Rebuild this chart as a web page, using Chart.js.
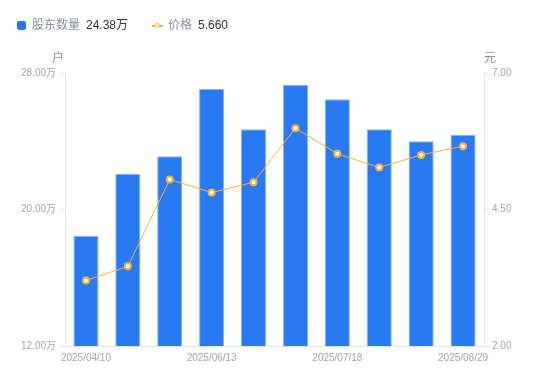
<!DOCTYPE html>
<html>
<head>
<meta charset="utf-8">
<script src="https://cdn.jsdelivr.net/npm/chart.js@4"></script>
<style>
  html, body { margin: 0; padding: 0; background: #fff; }
  #wrap { position: relative; width: 550px; height: 381px; font-family: "Liberation Sans", Arial, "Noto Sans CJK SC", sans-serif; }
  #legend { position: absolute; left: 0; top: 0; width: 550px; height: 40px; font-size: 12px; }
  .item { position: absolute; top: 17px; height: 17px; line-height: 17px; white-space: nowrap; }
  .lab { color: #8a8f9c; }
  .val { color: #333; margin-left: 6px; }
  .sq { display: inline-block; width: 9px; height: 9px; border-radius: 2px; background: #2979F2; vertical-align: -1px; margin-right: 6px; }
  .ln { display: inline-block; position: relative; width: 9px; height: 9px; vertical-align: -1px; margin-right: 6px; }
  .ln::before { content: ""; position: absolute; left: -1px; right: -1px; top: 3.5px; height: 2px; background: #F7B23B; }
  .ln::after { content: ""; position: absolute; left: 1.5px; top: 1.5px; width: 3px; height: 3px; border: 1.5px solid #F7B23B; border-radius: 50%; background: #fff; }
  canvas { position: absolute; left: 0; top: 0; }
</style>
</head>
<body>
<div id="wrap">
  <canvas id="c" width="550" height="381"></canvas>
  <div id="legend">
    <div class="item" style="left:17px"><span class="sq"></span><span class="lab">股东数量</span><span class="val" id="v1"></span></div>
    <div class="item" style="left:153px"><span class="ln"></span><span class="lab">价格</span><span class="val" id="v2"></span></div>
  </div>
</div>
<script>
const categories = ["2025/04/10","2025/04/30","2025/05/20","2025/06/13","2025/06/20","2025/06/30","2025/07/18","2025/07/31","2025/08/15","2025/08/29"];
const holders = [18.45, 22.08, 23.12, 27.08, 24.70, 27.30, 26.46, 24.70, 24.00, 24.38]; // 万户
const prices = [3.20, 3.46, 5.05, 4.81, 5.00, 5.99, 5.52, 5.27, 5.50, 5.66]; // 元
const leftTicks = [12, 20, 28];
const rightTicks = [2, 4.5, 7];
const seriesNames = ["股东数量", "价格"];
const unitLeft = "户";
const unitRight = "元";

document.getElementById('v1').textContent = holders[holders.length-1].toFixed(2) + '万';
document.getElementById('v2').textContent = prices[prices.length-1].toFixed(3);

const tickColor = '#a3a6b2';
const axisColor = '#e6e6e6';
const tickFont = { family: '"Liberation Sans", Arial, "Noto Sans CJK SC", sans-serif', size: 10 };

const unitPlugin = {
  id: 'units',
  afterDraw(chart) {
    const { ctx, chartArea } = chart;
    ctx.save();
    ctx.fillStyle = '#8a8f9c';
    ctx.font = '12px "Noto Sans CJK SC", sans-serif';
    ctx.textAlign = 'center';
    ctx.textBaseline = 'middle';
    ctx.fillText(unitLeft, chartArea.left - 7, chartArea.top - 16);
    ctx.fillText(unitRight, chartArea.right + 6, chartArea.top - 16);
    ctx.restore();
  }
};

new Chart(document.getElementById('c'), {
  data: {
    labels: categories,
    datasets: [
      {
        type: 'line', label: seriesNames[1], data: prices, yAxisID: 'y1', order: 0,
        borderColor: '#F7B23B', borderWidth: 1, tension: 0,
        pointRadius: 3, pointBorderWidth: 2, pointBorderColor: '#F7B23B', pointBackgroundColor: '#fff'
      },
      {
        type: 'bar', label: seriesNames[0], data: holders, yAxisID: 'y', order: 1,
        backgroundColor: '#2979F2', borderColor: '#86b3f7', borderWidth: 1,
        barPercentage: 0.6, categoryPercentage: 1
      }
    ]
  },
  options: {
    responsive: false,
    animation: false,
    layout: { padding: { top: 73, left: 0, right: 0, bottom: 0 } },
    plugins: { legend: { display: false }, tooltip: { enabled: false } },
    scales: {
      x: {
        afterFit(s) { s.height = 35; },
        grid: { display: true, drawOnChartArea: false, drawTicks: false, color: axisColor },
        border: { display: true, color: axisColor },
        ticks: {
          autoSkip: false, maxRotation: 0, padding: 6, color: tickColor, font: tickFont,
          callback(v, i) { return i % 3 === 0 ? categories[i] : ''; }
        }
      },
      y: {
        position: 'left', min: leftTicks[0], max: leftTicks[leftTicks.length-1],
        afterFit(s) { s.width = 65; },
        afterBuildTicks(s) { s.ticks = leftTicks.map(v => ({ value: v })); },
        grid: { drawOnChartArea: false, drawTicks: true, tickLength: 6, color: axisColor },
        border: { display: true, color: axisColor },
        ticks: { padding: 3, color: tickColor, font: tickFont, callback: v => v.toFixed(2) + '万' }
      },
      y1: {
        position: 'right', min: rightTicks[0], max: rightTicks[rightTicks.length-1],
        afterFit(s) { s.width = 66; },
        afterBuildTicks(s) { s.ticks = rightTicks.map(v => ({ value: v })); },
        grid: { drawOnChartArea: false, drawTicks: true, tickLength: 5, color: axisColor },
        border: { display: true, color: axisColor },
        ticks: { padding: 3, color: tickColor, font: tickFont, callback: v => v.toFixed(2) }
      }
    }
  },
  plugins: [unitPlugin]
});
</script>
</body>
</html>
